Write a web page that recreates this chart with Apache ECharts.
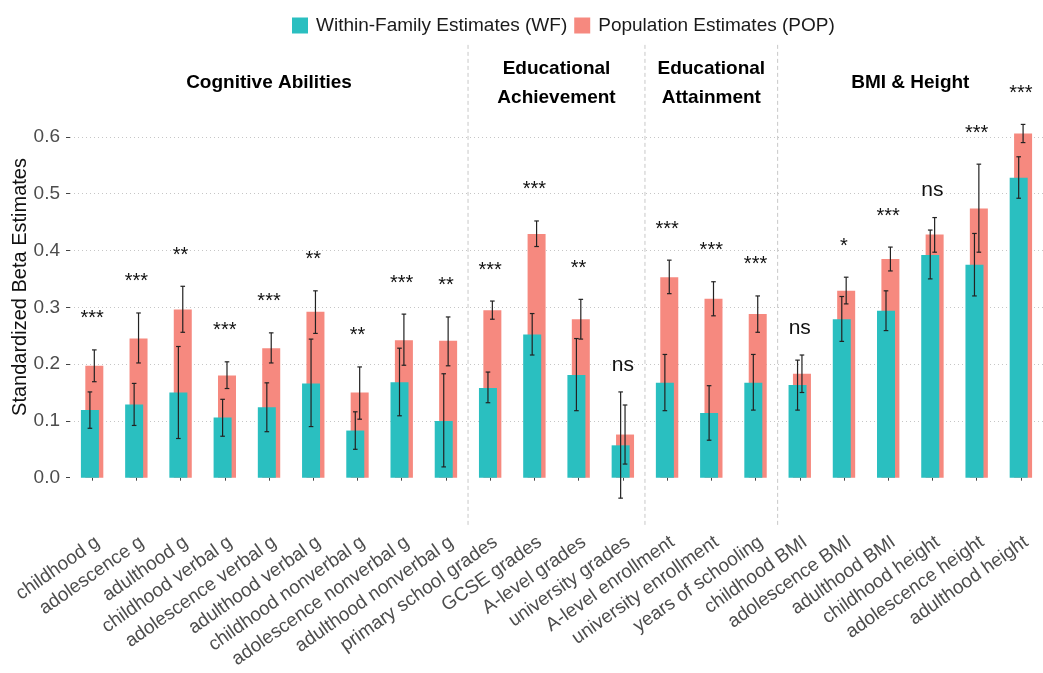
<!DOCTYPE html>
<html>
<head>
<meta charset="utf-8">
<script src="https://cdn.jsdelivr.net/npm/echarts@6/dist/echarts.min.js"></script>
<style>
  html, body { margin: 0; padding: 0; background: #fff; }
  #chart { width: 1043px; height: 673px; }
</style>
</head>
<body>
<div id="chart"></div>
<script>
const categories = [
  'childhood g', 'adolescence g', 'adulthood g', 'childhood verbal g',
  'adolescence verbal g', 'adulthood verbal g', 'childhood nonverbal g',
  'adolescence nonverbal g', 'adulthood nonverbal g', 'primary school grades',
  'GCSE grades', 'A-level grades', 'university grades', 'A-level enrollment',
  'university enrollment', 'years of schooling', 'childhood BMI', 'adolescence BMI',
  'adulthood BMI', 'childhood height', 'adolescence height', 'adulthood height'
];

const wfValue = [0.119, 0.129, 0.150, 0.106, 0.124, 0.166, 0.083, 0.168, 0.100, 0.158, 0.252,
  0.181, 0.057, 0.167, 0.114, 0.167, 0.163, 0.279, 0.294, 0.392, 0.375, 0.528];
const wfLow = [0.087, 0.092, 0.069, 0.073, 0.081, 0.090, 0.050, 0.109, 0.019, 0.132, 0.216,
  0.118, -0.036, 0.118, 0.066, 0.119, 0.119, 0.240, 0.259, 0.350, 0.320, 0.492];
const wfHigh = [0.151, 0.166, 0.231, 0.138, 0.167, 0.244, 0.116, 0.228, 0.183, 0.186, 0.289,
  0.245, 0.151, 0.217, 0.162, 0.217, 0.207, 0.319, 0.329, 0.436, 0.430, 0.565];

const popValue = [0.197, 0.245, 0.296, 0.180, 0.228, 0.292, 0.150, 0.242, 0.241, 0.295, 0.429,
  0.279, 0.076, 0.353, 0.315, 0.288, 0.183, 0.329, 0.385, 0.428, 0.474, 0.606];
const popLow = [0.169, 0.202, 0.256, 0.157, 0.202, 0.254, 0.103, 0.198, 0.197, 0.279, 0.407,
  0.244, 0.024, 0.324, 0.285, 0.256, 0.150, 0.306, 0.364, 0.397, 0.397, 0.590];
const popHigh = [0.225, 0.290, 0.337, 0.204, 0.255, 0.329, 0.195, 0.288, 0.283, 0.311, 0.452,
  0.314, 0.128, 0.383, 0.345, 0.320, 0.216, 0.353, 0.406, 0.458, 0.552, 0.622];

const significance = ['***', '***', '**', '***', '***', '**', '**', '***', '**', '***', '***',
  '**', 'ns', '***', '***', '***', 'ns', '*', '***', 'ns', '***', '***'];

const groupNames = ['Cognitive Abilities', 'Educational\nAchievement', 'Educational\nAttainment', 'BMI & Height'];
const groupFirst = [0, 9, 13, 16];
const groupLast = [8, 12, 15, 21];

const yTicks = [0, 0.1, 0.2, 0.3, 0.4, 0.5, 0.6];

// look
const FONT = '"Liberation Sans", Arial, Helvetica, sans-serif';
const WF_COLOR = '#2abfc0';
const POP_COLOR = '#f6897f';
const BAR_W = 18;
const SHIFT = 4.4; // distance between the two bar centres
const PANEL_TOP = 0.762;
const PANEL_BOTTOM = -0.088;
const TITLE_Y = 0.6945;

const chart = echarts.init(document.getElementById('chart'));

function errorBars(low, high, dx) {
  return {
    type: 'custom',
    z: 5,
    silent: true,
    encode: { x: 0, y: [1, 2] },
    data: low.map((l, i) => [i, l, high[i]]),
    renderItem(params, api) {
      const i = api.value(0);
      const x = api.coord([i, 0])[0] + dx;
      const y1 = api.coord([i, api.value(1)])[1];
      const y2 = api.coord([i, api.value(2)])[1];
      const style = { stroke: '#222', lineWidth: 1.2 };
      const cap = 2.3;
      return {
        type: 'group',
        children: [
          { type: 'line', shape: { x1: x, y1: y1, x2: x, y2: y2 }, style },
          { type: 'line', shape: { x1: x - cap, y1: y1, x2: x + cap, y2: y1 }, style },
          { type: 'line', shape: { x1: x - cap, y1: y2, x2: x + cap, y2: y2 }, style },
        ],
      };
    },
  };
}

const splitColors = yTicks.map(() => '#c6c6c6');

chart.setOption({
  animation: false,
  textStyle: { fontFamily: FONT },
  legend: {
    left: 287,
    top: 11,
    itemWidth: 16,
    itemHeight: 16,
    itemGap: 7,
    icon: 'rect',
    data: ['Within-Family Estimates (WF)', 'Population Estimates (POP)'],
    textStyle: { fontSize: 19, color: '#1a1a1a', fontFamily: FONT, padding: [0, 0, 0, 3] },
  },
  grid: { left: 70, top: 23.3, width: 977.7, height: 511.2 },
  xAxis: {
    type: 'category',
    data: categories,
    offset: -6,
    axisLine: { show: false },
    axisTick: { show: true, alignWithLabel: true, length: 3, lineStyle: { color: '#444' } },
    axisLabel: {
      interval: 0,
      rotate: 35,
      align: 'right',
      verticalAlign: 'top',
      margin: 4,
      fontSize: 19,
      color: '#4d4d4d',
      fontFamily: FONT,
    },
    splitLine: { show: false },
  },
  yAxis: {
    type: 'value',
    min: -0.1,
    max: 0.8,
    interval: 0.1,
    axisLine: { show: false },
    axisTick: { show: true, length: 4, customValues: yTicks, lineStyle: { color: '#444' } },
    axisLabel: {
      customValues: yTicks,
      margin: 10,
      fontSize: 19,
      color: '#4d4d4d',
      fontFamily: FONT,
      formatter: v => v.toFixed(1),
    },
    splitLine: {
      show: true,
      lineStyle: {
        type: [1, 3],
        width: 1,
        color: ['transparent'].concat(splitColors, ['transparent', 'transparent']),
      },
    },
  },
  graphic: [{
    type: 'text',
    x: 20,
    y: 287,
    rotation: Math.PI / 2,
    style: {
      text: 'Standardized Beta Estimates',
      fontSize: 20,
      fontFamily: FONT,
      fill: '#111',
      align: 'center',
      verticalAlign: 'middle',
    },
  }],
  series: [
    {
      name: 'Within-Family Estimates (WF)',
      type: 'bar',
      z: 3,
      barWidth: BAR_W,
      barGap: (-(1 - SHIFT / BAR_W) * 100) + '%',
      itemStyle: { color: WF_COLOR },
      data: wfValue,
    },
    {
      name: 'Population Estimates (POP)',
      type: 'bar',
      z: 2,
      barWidth: BAR_W,
      itemStyle: { color: POP_COLOR },
      data: popValue,
    },
    errorBars(popLow, popHigh, SHIFT / 2),
    errorBars(wfLow, wfHigh, -SHIFT / 2),
    {
      // significance marks above each pair
      type: 'custom',
      z: 6,
      silent: true,
      encode: { x: 0, y: 1 },
      data: categories.map((c, i) => [i, Math.max(wfHigh[i], popHigh[i])]),
      renderItem(params, api) {
        const p = api.coord([api.value(0), api.value(1)]);
        const mark = significance[params.dataIndex];
        return {
          type: 'text',
          x: p[0],
          y: p[1] - (mark === 'ns' ? 27 : 31),
          style: {
            text: mark,
            fontSize: mark === 'ns' ? 21 : 20,
            fontFamily: FONT,
            fill: '#111',
            align: 'center',
            verticalAlign: 'middle',
          },
        };
      },
    },
    {
      // dashed separators between the domains
      type: 'custom',
      z: 1,
      silent: true,
      encode: { x: 0, y: 1 },
      data: groupLast.slice(0, -1).map(i => [i, 0]),
      renderItem(params, api) {
        const i = api.value(0);
        const x = (api.coord([i, 0])[0] + api.coord([i + 1, 0])[0]) / 2;
        return {
          type: 'line',
          shape: { x1: x, y1: api.coord([i, PANEL_TOP])[1], x2: x, y2: api.coord([i, PANEL_BOTTOM])[1] },
          style: { stroke: '#c8c8c8', lineWidth: 1, lineDash: [4, 3] },
        };
      },
    },
    {
      // domain titles
      type: 'custom',
      z: 6,
      silent: true,
      encode: { x: 0, y: 1 },
      data: groupFirst.map((f, g) => [f, TITLE_Y]),
      renderItem(params, api) {
        const g = params.dataIndex;
        const x = (api.coord([groupFirst[g], 0])[0] + api.coord([groupLast[g], 0])[0]) / 2;
        return {
          type: 'text',
          x: x,
          y: api.coord([0, TITLE_Y])[1],
          style: {
            text: groupNames[g],
            fontSize: 19,
            fontWeight: 'bold',
            fontFamily: FONT,
            fill: '#000',
            align: 'center',
            verticalAlign: 'middle',
            lineHeight: 29,
          },
        };
      },
    },
  ],
});
</script>
</body>
</html>
